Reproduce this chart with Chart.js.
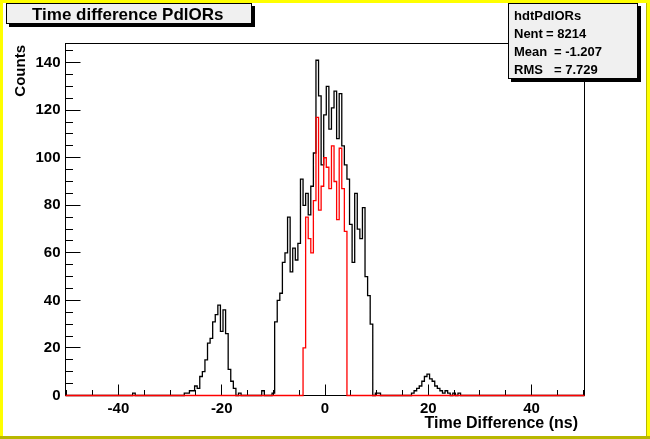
<!DOCTYPE html>
<html>
<head>
<meta charset="utf-8">
<script src="https://cdn.jsdelivr.net/npm/chart.js@4.4.1/dist/chart.umd.min.js"></script>
<style>
    html, body { margin: 0; padding: 0; background: #fff; }
    canvas { display: block; }
</style>
</head>
<body>
<canvas id="hist" width="650" height="439"></canvas>
<script>
// Histogram binning (ns)
const xLow = -50.25;
const xHigh = 50.25;
const binWidth = 0.5;
const yMax = 148.05;

// Black histogram (all entries), stored as runs: first bin centre + counts
const strayStart = -37.0;
const strayCounts = [1];
const leftBumpStart = -27.0;
const leftBump = [1, 1, 2, 2, 4, 3, 8, 10, 15, 22, 24, 31, 34, 38, 27, 36, 26, 11, 6, 3, 0, 1];
const centralStart = -12.0;
const central = [2, 0, 0, 0, 1, 31, 40, 43, 56, 60, 75, 52, 62, 57, 64, 91, 80, 85, 76, 88,
    102, 141, 126, 97, 118, 130, 112, 121, 128, 108, 127, 105, 97, 91, 72, 56, 85, 70, 66, 79,
    50, 42, 30, 0, 1, 1];
const rightBumpStart = 17.0;
const rightBump = [1, 2, 3, 4, 6, 8, 9, 7, 6, 4, 3, 2, 1, 2, 1, 0, 1, 0, 1];

// Red histogram (selected entries)
const redStart = -4.0;
const redCounts = [20, 75, 66, 60, 82, 117, 78, 88, 100, 96, 87, 105, 90, 74, 104, 87, 69];

// Axis labels
const xTicks = [-40, -20, 0, 20, 40];
const yTicks = [0, 20, 40, 60, 80, 100, 120, 140];

// Stats box: name, then [label, value] rows
const statsName = 'hdtPdlORs';
const statsLabels = ['Nent', 'Mean', 'RMS'];
const statsValues = ['8214', '-1.207', '7.729'];

const FONT = "'Liberation Sans', Arial, Helvetica, sans-serif";

// Turn runs of counts into a stepped outline over the full range
function buildHist(runs) {
    const nBins = Math.round((xHigh - xLow) / binWidth);
    const counts = new Array(nBins).fill(0);
    runs.forEach(([start, values]) => {
        const first = Math.round((start - xLow - binWidth / 2) / binWidth);
        values.forEach((v, i) => { counts[first + i] = v; });
    });
    const pts = counts.map((v, i) => ({ x: xLow + i * binWidth, y: v }));
    pts.push({ x: xHigh, y: counts[nBins - 1] });
    return pts;
}

const blackData = buildHist([
    [strayStart, strayCounts],
    [leftBumpStart, leftBump],
    [centralStart, central],
    [rightBumpStart, rightBump]
]);
const redData = buildHist([[redStart, redCounts]]);

// ROOT-like frame, tick marks, boxes and titles
const rootStyle = {
    id: 'rootStyle',
    beforeDraw(chart) {
        const ctx = chart.ctx;
        ctx.save();
        ctx.fillStyle = '#fff';
        ctx.fillRect(0, 0, 650, 439);
        ctx.fillStyle = '#ffff00';
        ctx.fillRect(0, 0, 650, 3);
        ctx.fillRect(0, 0, 3, 439);
        ctx.fillRect(647, 0, 3, 439);
        ctx.fillStyle = '#b8b800';
        ctx.fillRect(0, 436, 650, 3);
        ctx.fillRect(646, 3, 1, 433);
        ctx.restore();
    },
    beforeDatasetsDraw(chart) {
        const ctx = chart.ctx;
        const a = chart.chartArea;
        const xs = chart.scales.x;
        const ys = chart.scales.y;
        ctx.save();
        ctx.strokeStyle = '#000';
        ctx.lineWidth = 1;
        ctx.strokeRect(a.left, a.top, a.right - a.left, a.bottom - a.top);
        ctx.beginPath();
        for (let v = 0; v <= yMax; v += 5) {
            const py = Math.floor(ys.getPixelForValue(v)) + 0.5;
            const len = v % 20 === 0 ? 15 : 7.5;
            ctx.moveTo(a.left, py);
            ctx.lineTo(a.left + len, py);
        }
        for (let t = -50; t <= 50; t += 5) {
            const px = Math.floor(xs.getPixelForValue(t)) + 0.5;
            const len = t % 20 === 0 ? 11 : 5.5;
            ctx.moveTo(px, a.bottom);
            ctx.lineTo(px, a.bottom - len);
        }
        ctx.stroke();
        ctx.restore();
    },
    afterDraw(chart) {
        const ctx = chart.ctx;
        ctx.save();
        // title box
        ctx.fillStyle = '#000';
        ctx.fillRect(9, 6, 246, 21);
        ctx.fillStyle = '#f0f0f0';
        ctx.fillRect(6, 3, 246, 21);
        ctx.strokeStyle = '#000';
        ctx.lineWidth = 1;
        ctx.strokeRect(6.5, 3.5, 245, 20);
        ctx.fillStyle = '#000';
        ctx.font = 'bold 17px ' + FONT;
        ctx.textBaseline = 'alphabetic';
        ctx.textAlign = 'left';
        ctx.fillText('Time difference PdlORs', 32, 20);

        // stats box
        ctx.fillStyle = '#000';
        ctx.fillRect(511, 6, 130, 76);
        ctx.fillStyle = '#f0f0f0';
        ctx.fillRect(508, 3, 130, 76);
        ctx.strokeRect(508.5, 3.5, 129, 75);
        ctx.fillStyle = '#000';
        ctx.font = 'bold 13px ' + FONT;
        ctx.fillText(statsName, 514, 20);
        statsLabels.forEach((lab, i) => {
            const y = 38 + i * 18;
            ctx.fillText(lab, 514, y);
            const eqX = i === 0 ? 546 : 554;
            ctx.fillText('= ' + statsValues[i], eqX, y);
        });

        // axis titles
        ctx.font = 'bold 16px ' + FONT;
        ctx.textAlign = 'right';
        ctx.fillText('Time Difference (ns)', 578, 428);
        ctx.font = 'bold 15px ' + FONT;
        ctx.translate(25, 45);
        ctx.rotate(-Math.PI / 2);
        ctx.fillText('Counts', 0, 0);
        ctx.restore();
    }
};

const tickFont = { family: FONT, size: 15, weight: 'bold' };

new Chart(document.getElementById('hist').getContext('2d'), {
    type: 'line',
    data: {
        datasets: [{
            label: 'all',
            data: blackData,
            borderColor: '#000',
            borderWidth: 1.3,
            pointRadius: 0,
            stepped: 'before',
            fill: false,
            clip: false,
            order: 2
        }, {
            label: 'selected',
            data: redData,
            borderColor: '#ff0000',
            borderWidth: 1.3,
            pointRadius: 0,
            stepped: 'before',
            fill: false,
            clip: false,
            order: 1
        }]
    },
    options: {
        responsive: false,
        animation: false,
        devicePixelRatio: 1,
        layout: { padding: { left: 0, top: 43.5, right: 65.5, bottom: 0 } },
        plugins: {
            legend: { display: false },
            tooltip: { enabled: false }
        },
        scales: {
            x: {
                type: 'linear',
                min: xLow,
                max: xHigh,
                afterBuildTicks: s => { s.ticks = xTicks.map(v => ({ value: v })); },
                afterFit: s => { s.height = 43.5; },
                grid: { display: false, drawTicks: false },
                border: { display: false },
                ticks: { color: '#000', font: tickFont, padding: 4, maxRotation: 0, autoSkip: false }
            },
            y: {
                min: 0,
                max: yMax,
                afterBuildTicks: s => { s.ticks = yTicks.map(v => ({ value: v })); },
                afterFit: s => { s.width = 65.5; },
                grid: { display: false, drawTicks: false },
                border: { display: false },
                ticks: { color: '#000', font: tickFont, padding: 5, autoSkip: false }
            }
        }
    },
    plugins: [rootStyle]
});
</script>
</body>
</html>
